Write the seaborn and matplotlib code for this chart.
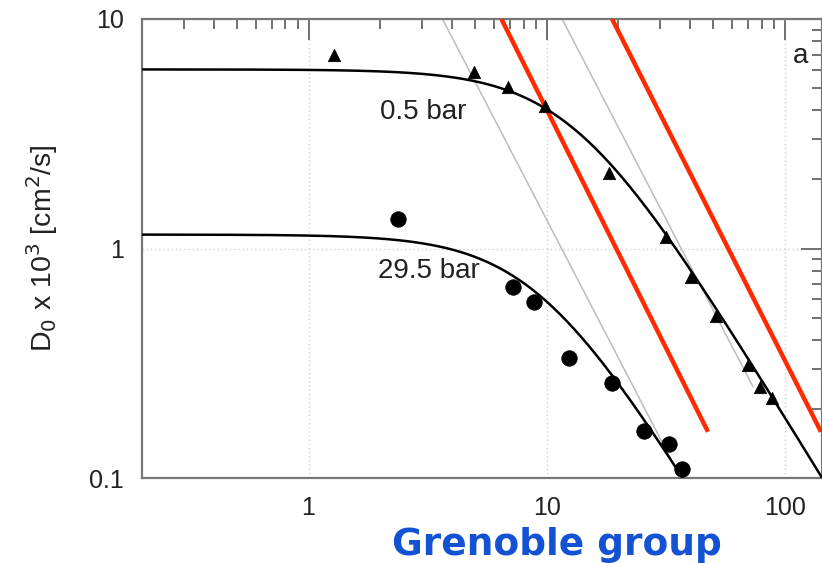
import numpy as np
import pandas as pd
import matplotlib
matplotlib.use("Agg")
import matplotlib.pyplot as plt
from matplotlib.ticker import LogLocator, NullFormatter, FixedLocator, FixedFormatter
import seaborn as sns

# Measured diffusion coefficients, 0.5 bar (triangles)
p05_x = [1.28, 4.97, 6.9, 9.86, 18.3, 31.7, 40.4, 51.4, 70.0, 78.5, 88.0]
p05_d = [7.0, 5.85, 5.08, 4.16, 2.14, 1.12, 0.755, 0.506, 0.312, 0.25, 0.224]

# Measured diffusion coefficients, 29.5 bar (circles)
p295_x = [2.38, 7.24, 8.88, 12.4, 18.8, 25.6, 32.6, 37.0]
p295_d = [1.35, 0.683, 0.582, 0.332, 0.26, 0.16, 0.14, 0.11]

# Fit parameters: plateau D0, crossover scale, high-x damping exponent
fit_d0 = {"0.5 bar": 6.03, "29.5 bar": 1.15}
fit_xc = {"0.5 bar": 12.9, "29.5 bar": 9.1}
fit_p = 0.85

# Reference power laws (slope -2), given by x where D = 10 and the end value
gray_x10 = [3.65, 11.6]
gray_dend = [0.1, 0.25]

# Red guide lines, end points
red_x = [[6.45, 47.5], [18.8, 141.6]]
red_d = [[10.0, 0.159], [10.0, 0.159]]

xticks = [1, 10, 100]
xticklabels = ["1", "10", "100"]
yticks = [0.1, 1, 10]
yticklabels = ["0.1", "1", "10"]

sns.set_style("white")
plt.rcParams["font.family"] = ["Liberation Sans", "DejaVu Sans"]

W, H = 822, 563
fig = plt.figure(figsize=(W / 100, H / 100), dpi=100)
ax = fig.add_axes([142 / W, (H - 478) / H, (W - 142) / W, 459 / H])
ax.set_xscale("log")
ax.set_yscale("log")
ax.set_xlim(0.2, 143)
ax.set_ylim(0.1, 10)

# Dotted grid at decades
ax.grid(True, which="major", ls=(0, (1, 2)), color="#cfcfcf", lw=1.0, zorder=0)

# Gray slope -2 reference lines
for x10, dend in zip(gray_x10, gray_dend):
    xe = x10 * np.sqrt(10.0 / dend)
    xs = np.array([x10, xe])
    ax.plot(xs, 10.0 * (x10 / xs) ** 2, color="#bdbdbd", lw=1.1, zorder=1)

# Fitted curves
xx = np.logspace(np.log10(0.2), np.log10(150), 400)
curves = []
for name in fit_d0:
    d = fit_d0[name] / (1 + (xx / fit_xc[name]) ** 2) ** fit_p
    curves.append(pd.DataFrame({"x": xx, "D": d, "p": name}))
curves = pd.concat(curves, ignore_index=True)
sns.lineplot(data=curves, x="x", y="D", units="p", estimator=None,
             color="black", lw=1.8, ax=ax, zorder=3, legend=False)

# Red guide lines
for xs, ds in zip(red_x, red_d):
    ax.plot(xs, ds, color="#ff2a00", lw=3.2, solid_capstyle="butt", zorder=4)

# Data points
df05 = pd.DataFrame({"x": p05_x, "D": p05_d})
df295 = pd.DataFrame({"x": p295_x, "D": p295_d})
sns.scatterplot(data=df05, x="x", y="D", marker="^", s=80, color="black",
                edgecolor="black", linewidth=0.5, ax=ax, zorder=5, legend=False)
sns.scatterplot(data=df295, x="x", y="D", marker="o", s=125, color="black",
                edgecolor="black", linewidth=0.5, ax=ax, zorder=5, legend=False)

# Ticks: inward on all sides
ax.xaxis.set_major_locator(FixedLocator(xticks))
ax.xaxis.set_major_formatter(FixedFormatter(xticklabels))
ax.yaxis.set_major_locator(FixedLocator(yticks))
ax.yaxis.set_major_formatter(FixedFormatter(yticklabels))
ax.xaxis.set_minor_locator(LogLocator(base=10, subs=np.arange(2, 10)))
ax.yaxis.set_minor_locator(LogLocator(base=10, subs=np.arange(2, 10)))
ax.xaxis.set_minor_formatter(NullFormatter())
ax.yaxis.set_minor_formatter(NullFormatter())
ax.tick_params(which="both", direction="in", top=True, right=True,
               color="#666666", width=1.3, labelsize=18, labelcolor="#222222")
ax.tick_params(which="major", length=15, pad=13)
ax.tick_params(which="minor", length=7.5)
for s in ax.spines.values():
    s.set_color("#777777")
    s.set_linewidth(1.6)

ax.set_xlabel("")
ax.set_ylabel(r"D$_0$ x 10$^3$ [cm$^2$/s]", fontsize=20.5, color="#222222")
ax.yaxis.set_label_coords(-0.12, 0.5)

# Annotations
ax.text(3.03, 3.95, "0.5 bar", fontsize=20, color="#222222", ha="center", va="center")
ax.text(3.19, 0.794, "29.5 bar", fontsize=20, color="#222222", ha="center", va="center")
ax.text(116, 6.93, "a", fontsize=20, color="#222222", ha="center", va="center")

fig.text(557 / W, (H - 554.6) / H, "Grenoble group", fontsize=27, fontweight="bold",
         color="#1452d4", ha="center", va="baseline", family=["DejaVu Sans"])

fig.savefig("out.png", dpi=100)
